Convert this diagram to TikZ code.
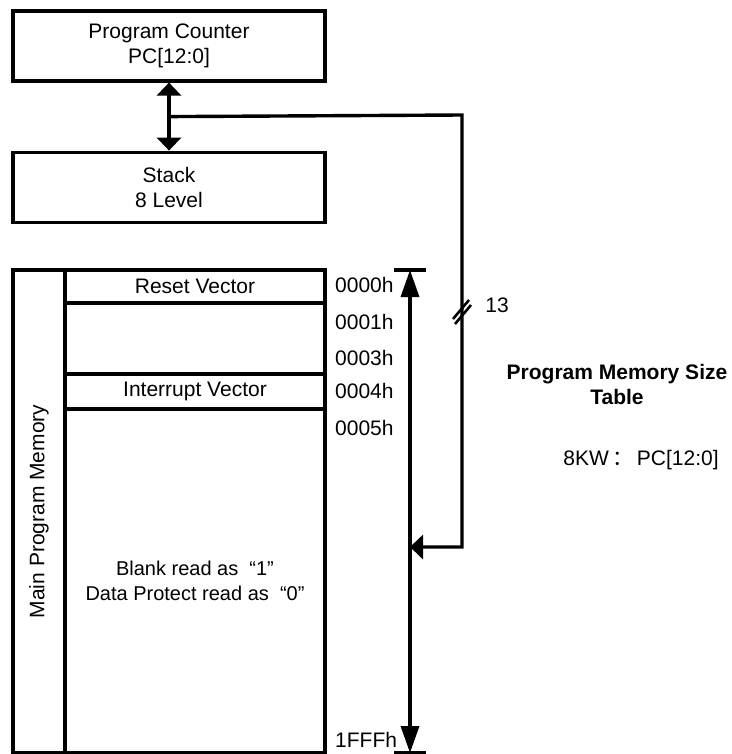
\documentclass[tikz,border=0pt]{standalone}
\usepackage{fontspec}
\setmainfont{Liberation Sans}
\newfontfamily\cjk{Noto Sans CJK SC}
\usepackage{tikz}
\usetikzlibrary{arrows.meta,positioning,calc}

\begin{document}
\begin{tikzpicture}[
  x=1pt, y=-1pt,
  txt/.style={font=\fontsize{21}{25}\selectfont},
  blk/.style={txt, draw, line width=3.2pt, rectangle, minimum width=312pt, minimum height=70pt, align=center},
  memrow/.style={txt, draw, line width=3.2pt, rectangle, minimum width=260pt, inner sep=0pt, outer sep=0pt, align=center},
  addr/.style={txt, anchor=west, inner sep=0pt},
  wire/.style={line width=3.4pt},
  arr/.style={wire, -{Triangle[length=13pt,width=24pt]}},
  span/.style={wire, {Triangle[length=27pt,width=18pt]}-{Triangle[length=27pt,width=18pt]}},
  node distance=68pt
]
\useasboundingbox (0,0) rectangle (731,754);

\node[blk] (pc) at (169,46) {Program Counter\\PC[12:0]};
\node[blk, below=of pc] (stack) {Stack\\8 Level};

% PC <-> stack
\coordinate (tap) at ($(pc.south)!0.5!(stack.north)$);
\draw[wire, {Triangle[length=13pt,width=24pt]}-{Triangle[length=13pt,width=24pt]}] (stack.north) -- (pc.south);

% Main program memory block
\node[draw, line width=3.2pt, rectangle, outer sep=0pt, minimum width=52pt, minimum height=483pt, anchor=north west] (side) at (13,270) {};
\node[txt, rotate=90] (sidelbl) at (side.center) {Main Program Memory};
\node[memrow, minimum height=33pt, anchor=north west] (reset) at (side.north east) {Reset Vector};
\node[memrow, minimum height=71pt, below=0pt of reset] (gap) {};
\node[memrow, minimum height=35pt, below=0pt of gap] (intv) {Interrupt Vector};
\node[memrow, minimum height=344pt, below=0pt of intv, font=\fontsize{20}{25}\selectfont] (main) {Blank read as \ “1”\\Data Protect read as \ “0”};

% addresses
\node[addr] (a0) at (335,285) {0000h};
\node[addr] (a1) at (335,322) {0001h};
\node[addr] (a3) at (335,358) {0003h};
\node[addr] (a4) at (335,391) {0004h};
\node[addr] (a5) at (335,428) {0005h};
\node[addr] (af) at (335,740) {1FFFh};

% address span
\coordinate (mtop) at (410,270);
\coordinate (mbot) at (410,753);
\draw[span] (mtop) -- (mbot);
\draw[wire] (mtop) ++(-16,0) -- ++(32,0);
\draw[wire] (mbot) ++(-16,0) -- ++(32,0);

% 13-bit bus from PC into memory
\coordinate (busr) at (462,115);
\coordinate (hit) at (410,547);
\draw[arr] (tap) -- (busr) |- (hit);
\coordinate (slash) at (462,312);
\draw[line width=2.6pt] ($(slash)+(-9,7)$) -- ($(slash)+(7,-12)$);
\draw[line width=2.6pt] ($(slash)+(-7,12)$) -- ($(slash)+(9,-7)$);
\node[txt] (width) at (497,305) {13};

% size table
\node[txt, font=\fontsize{21}{25}\selectfont\bfseries, align=center] (title) at (617,384) {Program Memory Size\\Table};
\node[txt] (size) at (641,460) {8KW\,{\cjk ：}\,PC[12:0]};

\end{tikzpicture}
\end{document}
